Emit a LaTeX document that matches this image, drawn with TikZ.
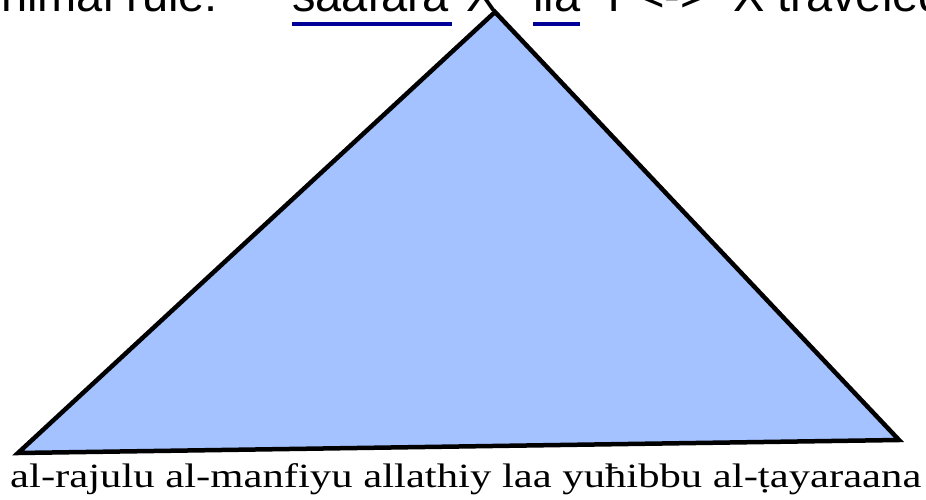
\documentclass[tikz,border=0pt]{standalone}
\usepackage{fontspec}
\setmainfont{Liberation Serif}
\setsansfont{Liberation Sans}
\usepackage{xcolor}
\usepackage{tikz}
\usetikzlibrary{calc}

\definecolor{triblue}{RGB}{164,194,255}
\definecolor{ulblue}{RGB}{0,0,153}

\begin{document}
\begin{tikzpicture}[
    x=1pt, y=-1pt,
    rule/.style={
        anchor=base west,
        inner sep=0pt,
        font=\sffamily\fontsize{47}{56}\selectfont
    },
    gloss/.style={
        anchor=base west,
        inner sep=0pt,
        font=\rmfamily\fontsize{34}{40}\selectfont
    },
    uline/.style={
        draw=ulblue,
        line width=4pt
    },
    tri/.style={
        draw=black,
        fill=triblue,
        line width=4.5pt,
        line join=miter
    }
]
\useasboundingbox (0,0) rectangle (926,500);
\clip (0,0) rectangle (926,500);

% === Rule line ===
\node[rule] (lbl) at (1,12) {nimal rule:};
\node[rule] (verb) at (292,12) {saafara};
\node[rule] (argx) at (466,12) {X};
\node[rule] (prep) at (533,12) {ila};
\node[rule] (argy) at (598,12) {Y};
\node[rule] (iff) at (637,12) {<->};
\node[rule] (gl) at (733,12) {X traveled};

% === Underlines ===
\draw[uline] ($(verb.base west)+(0,12)$) -- ($(verb.base east)+(3,12)$);
\draw[uline] ($(prep.base west)+(0,12)$) -- ($(prep.base east)+(0,12)$);

% === Tree ===
\coordinate (top) at (495,12);
\coordinate (left) at (18,453);
\coordinate (right) at (899,440);
\draw[tri] (top) -- (right) -- (left) -- cycle;

% === Gloss ===
\node[gloss] (words) at (10,487) {\scalebox{1.255}[1]{al-rajulu al-manfiyu allathiy laa yuħibbu al-ṭayaraana}};
\end{tikzpicture}
\end{document}
